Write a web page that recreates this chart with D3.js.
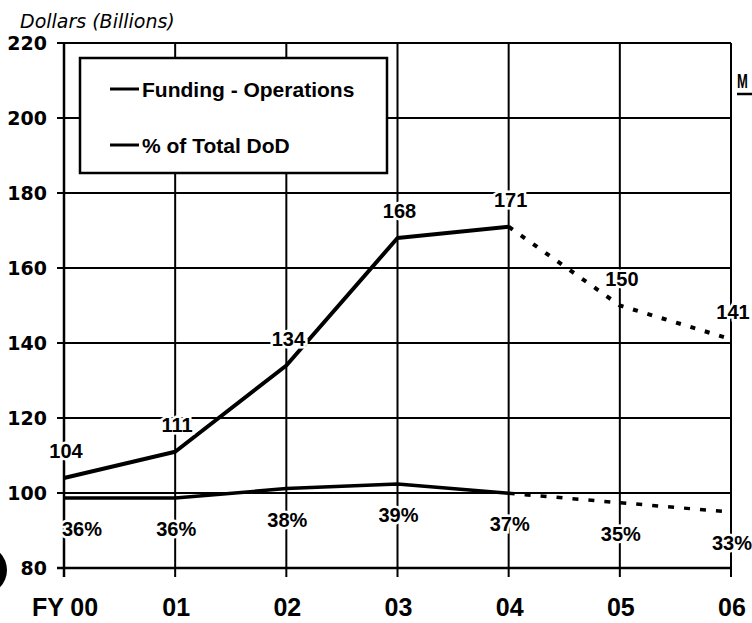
<!DOCTYPE html>
<html>
<head>
<meta charset="utf-8">
<script src="https://cdn.jsdelivr.net/npm/d3@7"></script>
<style>
  body { margin: 0; background: #fff; }
  svg { display: block; }
</style>
</head>
<body>
<div id="chart"></div>
<script>
// data
var years = ["FY 00", "01", "02", "03", "04", "05", "06"];
var funding = [104, 111, 134, 168, 171, 150, 141];   // Funding - Operations, $B
var pctDoD = [36, 36, 38, 39, 37, 35, 33];           // % of Total DoD
var yTicks = [80, 100, 120, 140, 160, 180, 200, 220];
var lastActual = 4;  // FY04, after that the lines are dashed

var W = 752, H = 623;

var svg = d3.select("#chart").append("svg")
    .attr("width", W)
    .attr("height", H);

var x = d3.scalePoint()
    .domain(years)
    .range([64, 731]);

var y = d3.scaleLinear()
    .domain([80, 220])
    .range([568, 43]);

// the % line rides on its own little scale near the 100 gridline
var yPct = d3.scaleLinear()
    .domain([30, 40])
    .range([y(91.15), y(103.68)]);

// gridlines
svg.append("g").selectAll("line.h")
  .data(yTicks)
  .enter().append("line")
    .attr("x1", 57).attr("x2", x("06"))
    .attr("y1", function(d) { return y(d); })
    .attr("y2", function(d) { return y(d); })
    .attr("stroke", "#000")
    .attr("stroke-width", function(d) { return d == 80 ? 2.5 : 2; });

svg.append("g").selectAll("line.v")
  .data(years)
  .enter().append("line")
    .attr("x1", function(d) { return x(d); })
    .attr("x2", function(d) { return x(d); })
    .attr("y1", y(220)).attr("y2", y(80) + 9)
    .attr("stroke", "#000")
    .attr("stroke-width", function(d, i) { return i == 0 ? 2.5 : 2; });

// y tick labels
svg.append("g").selectAll("text")
  .data(yTicks)
  .enter().append("text")
    .attr("x", 47)
    .attr("y", function(d) { return y(d); })
    .attr("dy", "0.36em")
    .attr("text-anchor", "end")
    .style("font-family", "DejaVu Sans")
    .style("font-weight", "bold")
    .style("font-size", "19px")
    .text(function(d) { return d; });

// x labels
svg.append("g").selectAll("text")
  .data(years)
  .enter().append("text")
    .attr("x", function(d) { return x(d) + 1; })
    .attr("y", 616)
    .attr("text-anchor", "middle")
    .style("font-family", "Liberation Sans")
    .style("font-weight", "bold")
    .style("font-size", "25px")
    .text(function(d) { return d; });

svg.append("text")
    .attr("x", 20)
    .attr("y", 28)
    .style("font-family", "DejaVu Sans")
    .style("font-style", "oblique")
    .style("font-size", "19px")
    .text("Dollars (Billions)");

// legend box (white, covers the grid)
var lg = svg.append("g");
lg.append("rect")
    .attr("x", 80).attr("y", 58)
    .attr("width", 307).attr("height", 115)
    .attr("fill", "#fff")
    .attr("stroke", "#000")
    .attr("stroke-width", 2.5);

var legendItems = ["Funding - Operations", "% of Total DoD"];
legendItems.forEach(function(t, i) {
  var ly = 89 + i * 56;
  lg.append("line")
      .attr("x1", 110).attr("x2", 139)
      .attr("y1", ly).attr("y2", ly)
      .attr("stroke", "#000")
      .attr("stroke-width", 3);
  lg.append("text")
      .attr("x", 142)
      .attr("y", ly + 8)
      .style("font-family", "Liberation Sans")
      .style("font-weight", "bold")
      .style("font-size", "21px")
      .text(t);
});

// lines
var fLine = d3.line()
    .x(function(d) { return x(d.year); })
    .y(function(d) { return y(d.v); });

var pLine = d3.line()
    .x(function(d) { return x(d.year); })
    .y(function(d) { return yPct(d.v); });

var fData = years.map(function(yr, i) { return {year: yr, v: funding[i]}; });
var pData = years.map(function(yr, i) { return {year: yr, v: pctDoD[i]}; });

function drawSeries(data, gen, sw, dash) {
  svg.append("path")
      .datum(data.slice(0, lastActual + 1))
      .attr("d", gen)
      .attr("fill", "none")
      .attr("stroke", "#000")
      .attr("stroke-width", sw)
      .attr("stroke-linejoin", "round");
  svg.append("path")
      .datum(data.slice(lastActual))
      .attr("d", gen)
      .attr("fill", "none")
      .attr("stroke", "#000")
      .attr("stroke-width", sw)
      .attr("stroke-dasharray", dash);
}
drawSeries(fData, fLine, 4, "5,10");
drawSeries(pData, pLine, 3.5, "6,10");

// value labels with white halo (they knock out the grid in the scan)
function halo(sel) {
  sel.style("font-family", "Liberation Sans")
     .style("font-weight", "bold")
     .style("font-size", "20px")
     .attr("stroke", "#fff")
     .attr("stroke-width", 5)
     .attr("paint-order", "stroke")
     .attr("fill", "#000");
}

svg.append("g").selectAll("text")
  .data(fData)
  .enter().append("text")
    .attr("x", function(d) { return x(d.year) + 2; })
    .attr("y", function(d) { return y(d.v) - 20; })
    .attr("text-anchor", "middle")
    .text(function(d) { return d.v; })
    .call(halo);

svg.append("g").selectAll("text")
  .data(pData)
  .enter().append("text")
    .attr("x", function(d, i) { return i == 0 ? x(d.year) - 2 : x(d.year) + 1; })
    .attr("y", function(d) { return yPct(d.v) + 38; })
    .attr("text-anchor", function(d, i) { return i == 0 ? "start" : "middle"; })
    .text(function(d) { return d.v + "%"; })
    .call(halo);

// bits of the scan: squeezed heading letter on the right and the dark blob at bottom left
svg.append("text")
    .attr("transform", "translate(737,88) scale(1,1.5)")
    .style("font-family", "Liberation Sans")
    .style("font-weight", "bold")
    .style("font-size", "13px")
    .text("M");
svg.append("line")
    .attr("x1", 737).attr("x2", 752)
    .attr("y1", 94).attr("y2", 94)
    .attr("stroke", "#000").attr("stroke-width", 2.5);

svg.append("ellipse")
    .attr("cx", -18).attr("cy", 570)
    .attr("rx", 25).attr("ry", 25)
    .attr("fill", "#000");
</script>
</body>
</html>
